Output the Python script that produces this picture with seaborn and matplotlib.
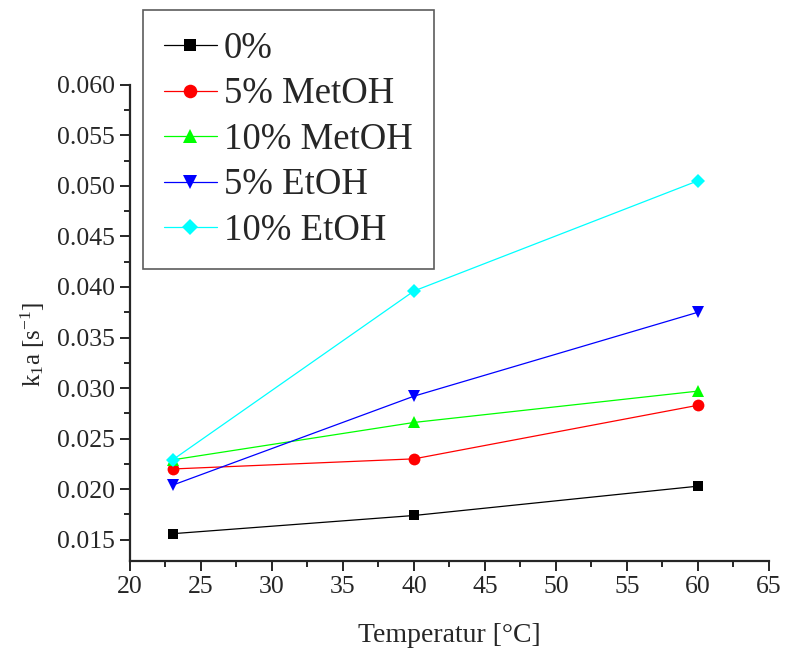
import matplotlib
matplotlib.use("Agg")
import matplotlib.pyplot as plt
from matplotlib.ticker import MultipleLocator, FormatStrFormatter
import numpy as np
import pandas as pd
import seaborn as sns

# Measured volumetric mass-transfer coefficients
temperature = [23, 40, 60]
kla_0 = [0.0156, 0.0174, 0.0203]
kla_5_metoh = [0.0220, 0.0230, 0.0283]
kla_10_metoh = [0.0229, 0.0266, 0.0297]
kla_5_etoh = [0.0204, 0.0292, 0.0375]
kla_10_etoh = [0.0229, 0.0396, 0.0505]

series_names = ["0%", "5% MetOH", "10% MetOH", "5% EtOH", "10% EtOH"]
series_values = [kla_0, kla_5_metoh, kla_10_metoh, kla_5_etoh, kla_10_etoh]
colors = ["#000000", "#ff0000", "#00ff00", "#0000ff", "#00ffff"]
markers = ["s", "o", "^", "v", "D"]
marker_sizes = [7.5, 8.5, 9, 9, 7.5]

sns.set_style("ticks")
plt.rcParams["font.family"] = ["Liberation Serif", "DejaVu Serif"]
plt.rcParams["mathtext.fontset"] = "custom"
plt.rcParams["mathtext.rm"] = "Liberation Serif"
plt.rcParams["mathtext.it"] = "Liberation Serif:italic"

frames = []
for name, vals in zip(series_names, series_values):
    frames.append(pd.DataFrame({"T": temperature, "kla": vals, "series": name}))
df = pd.concat(frames, ignore_index=True)

fig = plt.figure(figsize=(7.85, 6.54), dpi=100)
ax = fig.add_axes([0.1656, 0.1422, 0.8140, 0.7283])

handles = []
for name, c, m, ms in zip(series_names, colors, markers, marker_sizes):
    sub = df[df["series"] == name]
    sns.lineplot(data=sub, x="T", y="kla", ax=ax, color=c, marker=m,
                 markersize=ms, markeredgewidth=0, linewidth=0.9,
                 label=name, legend=False)
    handles.append(ax.lines[-1])

ax.set_xlim(20, 65)
ax.set_ylim(0.0129, 0.060)
ax.xaxis.set_major_locator(MultipleLocator(5))
ax.xaxis.set_minor_locator(MultipleLocator(2.5))
ax.yaxis.set_major_locator(MultipleLocator(0.005))
ax.yaxis.set_minor_locator(MultipleLocator(0.0025))
ax.yaxis.set_major_formatter(FormatStrFormatter("%.3f"))

for side in ["top", "right"]:
    ax.spines[side].set_visible(False)
for side in ["left", "bottom"]:
    ax.spines[side].set_linewidth(1.6)
ax.tick_params(which="major", direction="out", length=7, width=1.4,
               labelsize=18.5, pad=4)
ax.tick_params(which="minor", direction="out", length=4, width=1.4)

ax.set_xlabel("Temperatur [°C]", fontsize=20, labelpad=18)
ax.set_ylabel("k$_{\\mathregular{1}}$a [s$^{\\mathregular{-1}}$]", fontsize=18)
ax.yaxis.set_label_coords(-0.13, 0.455)

leg = fig.legend(handles=handles, labels=series_names, loc="upper left",
                 bbox_to_anchor=(143 / 785, 1 - 10 / 654),
                 fontsize=26.5, frameon=True, fancybox=False, numpoints=1,
                 handlelength=1.42, handletextpad=0.2, labelspacing=0.3,
                 borderpad=0.58, borderaxespad=0.0, markerscale=1.15)
leg.get_frame().set_edgecolor("#333333")
leg.get_frame().set_linewidth(1.2)

fig.savefig("out.png", dpi=100)
